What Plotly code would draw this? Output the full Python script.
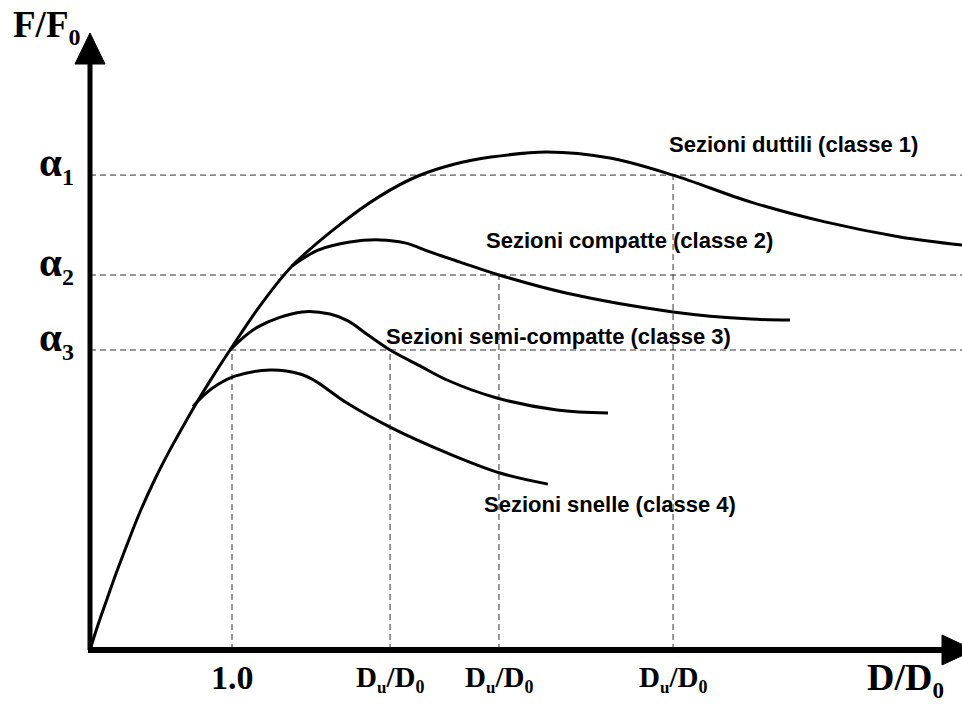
import plotly.graph_objects as go

# ---------------- data (x = D/D0, y = F/F0, alpha3 taken as 1.0) ----------------
class1_x = [0.000, 0.056, 0.120, 0.190, 0.268, 0.352, 0.458, 0.563, 0.669, 0.775, 0.880,
            0.986, 1.197, 1.423, 1.746, 2.042, 2.310, 2.570, 2.824, 3.218, 3.662, 4.106,
            4.655, 5.176, 5.704, 6.141]
class1_y = [0.000, 0.083, 0.170, 0.263, 0.360, 0.460, 0.570, 0.667, 0.757, 0.843, 0.923,
            1.000, 1.147, 1.280, 1.413, 1.513, 1.580, 1.620, 1.643, 1.660, 1.640, 1.583,
            1.493, 1.427, 1.377, 1.350]

class2_x = [1.423, 1.606, 1.831, 2.042, 2.218, 2.394, 2.606, 2.880, 3.352, 4.106, 4.655, 4.930]
class2_y = [1.280, 1.333, 1.360, 1.367, 1.357, 1.327, 1.293, 1.250, 1.190, 1.127, 1.103, 1.100]

class3_x = [0.986, 1.183, 1.493, 1.690, 1.817, 1.958, 2.113, 2.324, 2.514, 2.866, 3.289, 3.648]
class3_y = [1.000, 1.077, 1.127, 1.120, 1.097, 1.050, 1.000, 0.947, 0.900, 0.840, 0.800, 0.790]

class4_x = [0.725, 0.810, 0.900, 1.021, 1.268, 1.479, 1.585, 1.810, 2.113, 2.514, 2.887, 3.225]
class4_y = [0.812, 0.853, 0.885, 0.913, 0.933, 0.920, 0.897, 0.823, 0.743, 0.657, 0.590, 0.553]

alpha_values = [1.583, 1.250, 1.000]           # alpha1, alpha2, alpha3
alpha_labels = ["1", "2", "3"]

x_tick_values = [1.0, 2.113, 2.880, 4.106]
x_tick_labels = ["1.0", "D_u/D_0", "D_u/D_0", "D_u/D_0"]
x_tick_alpha = [1.000, 1.000, 1.250, 1.583]    # height reached by each vertical guide

curve_names = ["Sezioni duttili (classe 1)", "Sezioni compatte (classe 2)",
               "Sezioni semi-compatte (classe 3)", "Sezioni snelle (classe 4)"]

# ---------------- figure geometry ----------------
W, H = 962, 704
X_MIN, X_MAX = -90 / 142, 872 / 142
Y_MIN, Y_MAX = -54 / 300, 650 / 300

def px(x):  # pixel -> paper x
    return x / W

def py(y):  # pixel -> paper y
    return 1 - y / H

fig = go.Figure()

dash_style = dict(color="#333333", width=1, dash="6px,4px")

# horizontal alpha guides
for a in alpha_values:
    fig.add_trace(go.Scatter(x=[0, X_MAX], y=[a, a], mode="lines", line=dash_style,
                             hoverinfo="skip", showlegend=False))
# vertical guides
for xv, a in zip(x_tick_values, x_tick_alpha):
    fig.add_trace(go.Scatter(x=[xv, xv], y=[0, a], mode="lines", line=dash_style,
                             hoverinfo="skip", showlegend=False))

# curves
for cx, cy in [(class1_x, class1_y), (class2_x, class2_y), (class3_x, class3_y), (class4_x, class4_y)]:
    fig.add_trace(go.Scatter(x=cx, y=cy, mode="lines",
                             line=dict(color="black", width=3, shape="spline", smoothing=1.0),
                             hoverinfo="skip", showlegend=False))

# axes with arrows
x_arrow_base = (942 - 90) / 142
x_arrow_tip = (974 - 90) / 142
x_arrow_half = 15 / 300
y_arrow_base = (650 - 64) / 300
y_arrow_tip = (650 - 33) / 300
y_arrow_half = 15 / 142
fig.add_shape(type="line", x0=-2 / 142, y0=0, x1=x_arrow_base, y1=0,
              line=dict(color="black", width=6))
fig.add_shape(type="line", x0=0, y0=0, x1=0, y1=y_arrow_base + 0.01,
              line=dict(color="black", width=5))
fig.add_shape(type="path",
              path=f"M {x_arrow_tip} 0 L {x_arrow_base} {x_arrow_half} L {x_arrow_base} {-x_arrow_half} Z",
              fillcolor="black", line=dict(color="black", width=1))
fig.add_shape(type="path",
              path=f"M 0 {y_arrow_tip} L {-y_arrow_half} {y_arrow_base} L {y_arrow_half} {y_arrow_base} Z",
              fillcolor="black", line=dict(color="black", width=1))

serif = "Liberation Serif"
sans = "Liberation Sans"

# axis titles
fig.add_annotation(xref="paper", yref="paper", x=px(11), y=py(2), xanchor="left", yanchor="top",
                   text="<b>F/F<sub><span style='font-size:24px'>0</span></sub></b>",
                   showarrow=False, font=dict(family=serif, size=37, color="black"))
fig.add_annotation(xref="paper", yref="paper", x=px(946), y=py(705), xanchor="right", yanchor="bottom",
                   text="<b>D/D<sub><span style='font-size:23px'>0</span></sub></b>",
                   showarrow=False, font=dict(family=serif, size=38, color="black"))

# alpha labels
for a, lab in zip(alpha_values, alpha_labels):
    fig.add_annotation(xref="paper", yref="y", x=px(37), y=a, xanchor="left", yanchor="middle",
                       yshift=11,
                       text=f"<b>α<sub><span style='font-size:24px'>{lab}</span></sub></b>",
                       showarrow=False, font=dict(family=serif, size=41, color="black"))

# x tick labels
for xv, lab in zip(x_tick_values, x_tick_labels):
    if lab == "1.0":
        txt, size = "<b>1.0</b>", 34
        ytop = 657
    else:
        txt = ("<b>D<sub><span style='font-size:17px'>u</span></sub>/D"
               "<sub><span style='font-size:18px'>0</span></sub></b>")
        size = 29
        ytop = 659
    fig.add_annotation(xref="x", yref="paper", x=xv, y=py(ytop), xanchor="center", yanchor="top",
                       text=txt, showarrow=False, font=dict(family=serif, size=size, color="black"))

# curve labels
label_pos = [(667, 144), (484, 241), (384, 336), (482, 504)]
for name, (lx, ly) in zip(curve_names, label_pos):
    fig.add_annotation(xref="paper", yref="paper", x=px(lx), y=py(ly), xanchor="left", yanchor="middle",
                       text=f"<b>{name}</b>", showarrow=False,
                       font=dict(family=sans, size=22, color="black"))

fig.update_layout(
    width=W, height=H, autosize=False,
    margin=dict(l=0, r=0, t=0, b=0),
    paper_bgcolor="white", plot_bgcolor="white",
    xaxis=dict(range=[X_MIN, X_MAX], visible=False, fixedrange=True),
    yaxis=dict(range=[Y_MIN, Y_MAX], visible=False, fixedrange=True),
    showlegend=False,
)

fig.write_html("out.html", post_script="document.body.style.margin='0px';document.body.style.overflow='hidden';",
               config={"displayModeBar": False})
